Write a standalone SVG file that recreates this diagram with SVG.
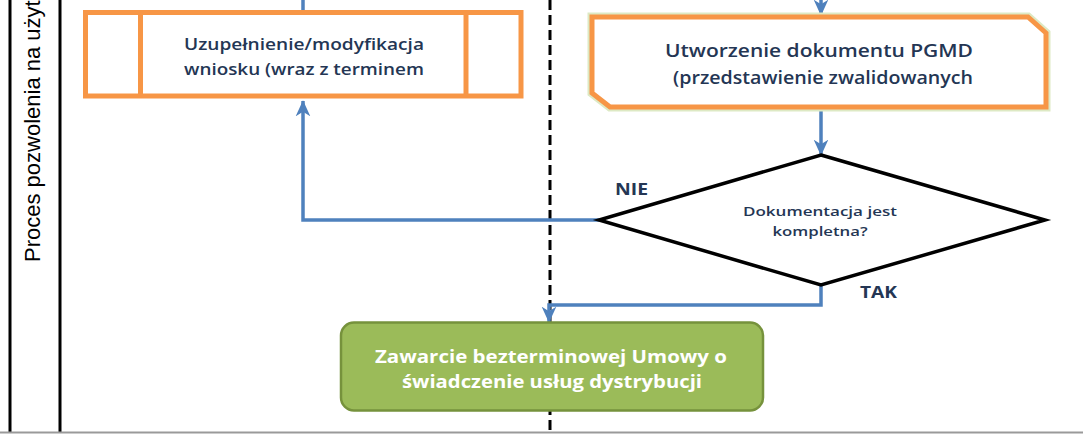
<svg xmlns="http://www.w3.org/2000/svg" width="1083" height="434" viewBox="0 0 1083 434">
  <defs>
    <style>
      .lane { stroke: #000; stroke-width: 3; fill: none; }
      .dash { stroke: #000; stroke-width: 3; stroke-dasharray: 10 5; fill: none; }
      .conn { stroke: #4F81BD; stroke-width: 3.5; fill: none; }
      .orange { fill: #fff; stroke: #F79646; stroke-width: 5; }
      .glow { fill: none; stroke: #DDE9C4; stroke-width: 9; stroke-linejoin: miter; }
      .txt { font-family: "Open Sans", "Liberation Sans", sans-serif; font-weight: 600; fill: #243654; text-anchor: middle; }
      .lbl { font-family: "Open Sans", "Liberation Sans", sans-serif; font-weight: 700; fill: #243654; }
      .white { font-family: "Open Sans", "Liberation Sans", sans-serif; font-weight: 700; fill: #fff; text-anchor: middle; }
    </style>
    <marker id="arr" viewBox="0 0 12 12" refX="11.5" refY="6" markerWidth="16" markerHeight="16" markerUnits="userSpaceOnUse" orient="auto">
      <path d="M0,0.5 L12,6 L0,11.5 L3.5,6 z" fill="#4F81BD"/>
    </marker>
  </defs>
  <rect x="0" y="0" width="1083" height="434" fill="#fff"/>

  <g id="swimlane">
    <line class="lane" x1="10" y1="0" x2="10" y2="432"/>
    <line class="lane" x1="60" y1="0" x2="60" y2="432"/>
    <text transform="translate(40,262) rotate(-90)" font-family="Liberation Sans, Arial, sans-serif" font-size="22" fill="#000">Proces pozwolenia na użyt</text>
    <line class="dash" x1="550" y1="0" x2="550" y2="432"/>
    <line x1="0" y1="432.5" x2="1083" y2="432.5" stroke="#9a9a9a" stroke-width="2"/>
  </g>

  <g id="connectors">
    <line class="conn" x1="303" y1="0" x2="303" y2="11"/>
    <line class="conn" x1="821" y1="-10" x2="821" y2="15" marker-end="url(#arr)"/>
    <path class="conn" d="M599,220 H303 V101" marker-end="url(#arr)"/>
    <path class="conn" d="M821,109 V155" marker-end="url(#arr)"/>
    <path class="conn" d="M821,285 V305 H549 V322" marker-end="url(#arr)"/>
  </g>

  <g id="node-uzupelnienie">
    <rect class="orange" x="85.5" y="12.5" width="435.5" height="83.5"/>
    <line x1="140.5" y1="12.5" x2="140.5" y2="96" stroke="#F79646" stroke-width="5"/>
    <line x1="466" y1="12.5" x2="466" y2="96" stroke="#F79646" stroke-width="5"/>
    <text class="txt" x="304" y="50" font-size="15.5" textLength="240" lengthAdjust="spacingAndGlyphs">Uzupełnienie/modyfikacja</text>
    <text class="txt" x="304" y="75" font-size="15.5" textLength="240" lengthAdjust="spacingAndGlyphs">wniosku (wraz z terminem</text>
  </g>

  <g id="node-pgmd">
    <polygon class="glow" points="592,17 1028,17 1046,33 1046,107 610,107 592,93"/>
    <polygon class="orange" stroke-width="4.5" points="592,17 1028,17 1046,33 1046,107 610,107 592,93"/>
    <text class="txt" x="819" y="57" font-size="18" textLength="308" lengthAdjust="spacingAndGlyphs">Utworzenie dokumentu PGMD</text>
    <text class="txt" x="823" y="84" font-size="18" textLength="300" lengthAdjust="spacingAndGlyphs">(przedstawienie zwalidowanych</text>
  </g>

  <g id="node-decision">
    <polygon points="821,155 1045,220 821,285 599,220" fill="#fff" stroke="#000" stroke-width="3.5" stroke-linejoin="miter"/>
    <text class="txt" x="820" y="216" font-size="13" textLength="154" lengthAdjust="spacingAndGlyphs">Dokumentacja jest</text>
    <text class="txt" x="820" y="236" font-size="13" textLength="95" lengthAdjust="spacingAndGlyphs">kompletna?</text>
    <text class="lbl" x="615" y="195" font-size="16" textLength="33" lengthAdjust="spacingAndGlyphs">NIE</text>
    <text class="lbl" x="860" y="298" font-size="16" textLength="37" lengthAdjust="spacingAndGlyphs">TAK</text>
  </g>

  <g id="node-umowa">
    <rect x="341" y="322.5" width="422" height="88" rx="13" ry="13" fill="#9BBB59" stroke="#76923C" stroke-width="2.5"/>
    <text class="white" x="551" y="363" font-size="17" textLength="352" lengthAdjust="spacingAndGlyphs">Zawarcie bezterminowej Umowy o</text>
    <text class="white" x="552" y="388" font-size="17" textLength="300" lengthAdjust="spacingAndGlyphs">świadczenie usług dystrybucji</text>
  </g>
</svg>
